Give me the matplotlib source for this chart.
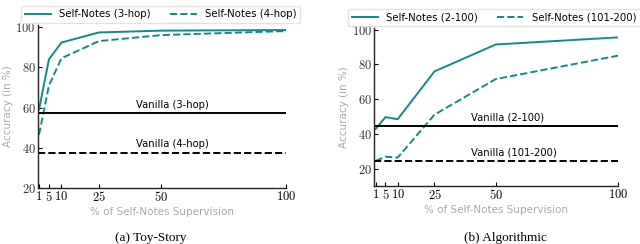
import matplotlib
matplotlib.use("Agg")
import matplotlib.pyplot as plt

plt.rcParams['mathtext.fontset'] = 'cm'
plt.rcParams['font.family'] = ['DejaVu Sans']

x_vals = [1, 5, 10, 25, 50, 100]
xtick_labels = ['1', '5', '10', '25', '50', '100']

# Toy-Story
toy_3hop = [59.0, 84.0, 92.3, 97.3, 98.2, 98.5]
toy_4hop = [46.5, 71.0, 84.5, 93.0, 96.0, 98.0]
toy_vanilla_3hop = 57.2
toy_vanilla_4hop = 37.4

# Algorithmic
alg_2_100 = [42.8, 49.6, 48.4, 75.9, 91.4, 95.5]
alg_101_200 = [24.4, 26.8, 26.3, 51.0, 71.5, 85.0]
alg_vanilla_2_100 = 44.5
alg_vanilla_101_200 = 24.4

teal = '#138a8a'
gray_label = '#a8a8a8'

fig = plt.figure(figsize=(6.4, 2.44), dpi=100)
ax1 = fig.add_axes([0.059, 0.2295, 0.388, 0.668])
ax2 = fig.add_axes([0.585, 0.238, 0.381, 0.648])

def style(ax, ylim, yticks, caption, cap_x):
    ax.set_xlim(0.5, 100)
    ax.set_ylim(*ylim)
    for s in ['top', 'right']:
        ax.spines[s].set_visible(False)
    for s in ['left', 'bottom']:
        ax.spines[s].set_linewidth(1.0)
        ax.spines[s].set_color('#222222')
    ax.set_xticks(x_vals)
    ax.set_xticklabels(['$' + t + '$' for t in xtick_labels], fontsize=9)
    ax.set_yticks(yticks)
    ax.set_yticklabels(['$%d$' % t for t in yticks], fontsize=9, color='#333333')
    ax.tick_params(direction='in', length=3, width=0.8, pad=1.5)
    ax.set_xlabel('% of Self-Notes Supervision', color=gray_label, fontsize=7.5, labelpad=2)
    ax.set_ylabel('Accuracy (in %)', color=gray_label, fontsize=7.5, labelpad=2)
    fig.text(cap_x, 1 - 238 / 244, caption, ha='center', va='center',
             fontsize=9.5, family='Liberation Serif')

def legend(ax, x_anchor):
    ax.legend(loc='lower center', bbox_to_anchor=(x_anchor, 1.0), ncol=2, fontsize=7.3,
              frameon=True, edgecolor='#dddddd', fancybox=True, borderpad=0.35,
              handlelength=2.6, handletextpad=0.8, columnspacing=1.9, borderaxespad=0.2)

# Left
ax1.plot(x_vals, toy_3hop, color=teal, lw=1.4, label='Self-Notes (3-hop)')
ax1.plot(x_vals, toy_4hop, color=teal, lw=1.4, ls='--', label='Self-Notes (4-hop)')
ax1.axhline(toy_vanilla_3hop, color='black', lw=1.4)
ax1.axhline(toy_vanilla_4hop, color='black', lw=1.4, ls='--')
ax1.text(40, toy_vanilla_3hop + 1.8, 'Vanilla (3-hop)', ha='left', va='bottom', fontsize=7.2)
ax1.text(40, toy_vanilla_4hop + 1.8, 'Vanilla (4-hop)', ha='left', va='bottom', fontsize=7.2)
style(ax1, (20, 101), [20, 40, 60, 80, 100], '(a) Toy-Story', 150.5 / 640)
legend(ax1, 0.495)

# Right
ax2.plot(x_vals, alg_2_100, color=teal, lw=1.4, label='Self-Notes (2-100)')
ax2.plot(x_vals, alg_101_200, color=teal, lw=1.4, ls='--', label='Self-Notes (101-200)')
ax2.axhline(alg_vanilla_2_100, color='black', lw=1.4)
ax2.axhline(alg_vanilla_101_200, color='black', lw=1.4, ls='--')
ax2.text(40, alg_vanilla_2_100 + 2.0, 'Vanilla (2-100)', ha='left', va='bottom', fontsize=7.2)
ax2.text(40, alg_vanilla_101_200 + 2.0, 'Vanilla (101-200)', ha='left', va='bottom', fontsize=7.2)
style(ax2, (10, 101), [20, 40, 60, 80, 100], '(b) Algorithmic', 505 / 640)
legend(ax2, 0.49)

fig.savefig('out.png', dpi=100)
